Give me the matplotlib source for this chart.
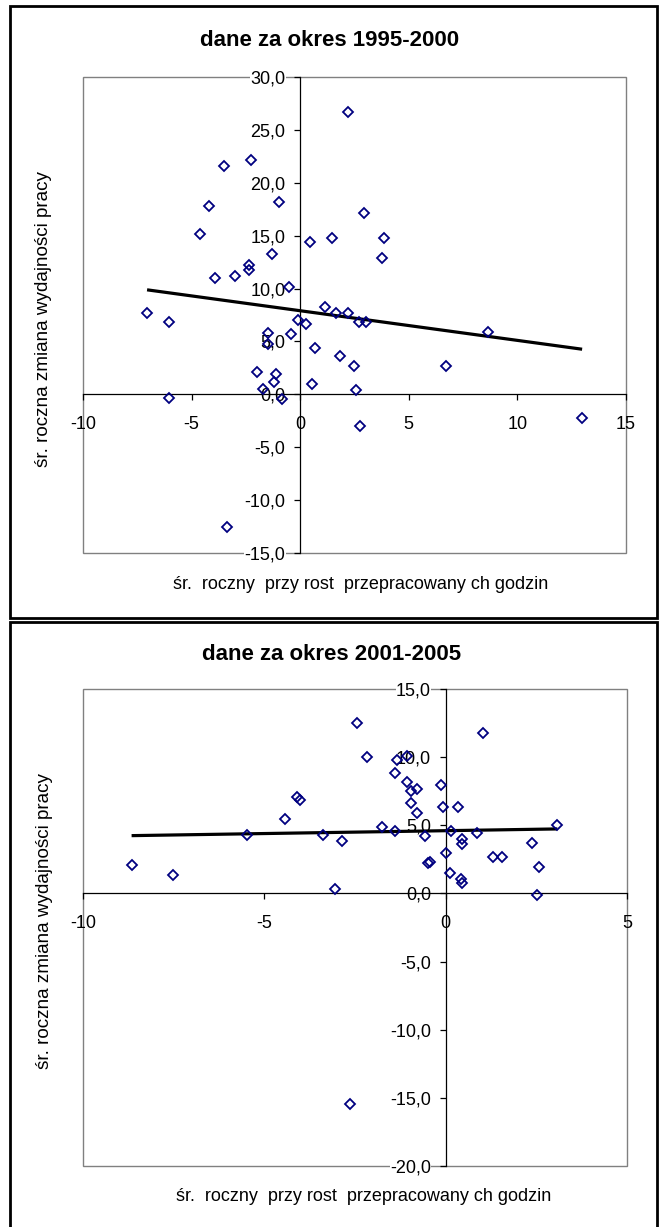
import numpy as np
import matplotlib
matplotlib.use("Agg")
import matplotlib.pyplot as plt
from matplotlib.patches import Rectangle
from matplotlib.ticker import FuncFormatter

plt.rcParams['font.family'] = ['Liberation Sans', 'DejaVu Sans']
plt.rcParams['axes.unicode_minus'] = False

# ---------------- data ----------------
title_1 = "dane za okres 1995-2000"
title_2 = "dane za okres 2001-2005"
xlabel_text = "śr.  roczny  przy rost  przepracowany ch godzin"
ylabel_text = "śr. roczna zmiana wydajności pracy"

x1 = [2.19, -2.25, -3.53, -0.97, -4.19, 2.93, -4.63, 1.45, 3.84, 0.43,
      3.76, -1.32, -2.34, -2.34, -3.91, -2.98, -0.50, -7.05, -6.03, 1.16,
      1.63, 2.19, 2.71, 3.02, -0.12, 0.27, -1.49, -0.41, -1.49, 0.70,
      8.66, 1.82, 2.48, 6.72, -1.98, -1.12, -1.22, 0.54, -1.71, 2.56,
      -6.03, -0.85, 12.98, 2.75, -3.35]
y1 = [26.7, 22.2, 21.6, 18.2, 17.8, 17.1, 15.2, 14.8, 14.8, 14.4,
      12.9, 13.3, 12.2, 11.8, 11.0, 11.2, 10.1, 7.7, 6.88, 8.25,
      7.68, 7.68, 6.82, 6.88, 7.07, 6.66, 5.77, 5.71, 4.76, 4.38,
      5.93, 3.62, 2.66, 2.66, 2.12, 1.90, 1.17, 0.95, 0.54, 0.41,
      -0.38, -0.41, -2.28, -3.04, -12.56]

x2 = [-2.44, 1.04, -2.16, -1.35, -1.07, -1.39, -1.07, -0.78, -0.95, -0.12,
      -0.95, -0.08, 0.33, -0.78, -4.09, -4.03, -4.42, -5.47, -3.37, -1.76,
      -1.39, 0.15, 0.87, 3.08, -0.57, 0.45, 0.45, 2.38, -2.87, 0.00,
      1.31, 1.54, -0.49, -0.43, -8.66, 2.58, -7.51, 0.12, 0.41, 0.46,
      -3.04, 2.53, -2.65]
y2 = [12.48, 11.74, 9.98, 9.78, 10.07, 8.82, 8.21, 7.65, 7.48, 7.92,
      6.62, 6.32, 6.32, 5.88, 7.11, 6.86, 5.44, 4.29, 4.29, 4.90,
      4.56, 4.56, 4.41, 5.00, 4.22, 3.97, 3.63, 3.68, 3.82, 2.94,
      2.65, 2.65, 2.21, 2.28, 2.06, 1.91, 1.32, 1.47, 1.03, 0.78,
      0.29, -0.12, -15.47]

xticks_1 = [-10, -5, 0, 5, 10, 15]
yticks_1 = [-15, -10, -5, 0, 5, 10, 15, 20, 25, 30]
xticks_2 = [-10, -5, 0, 5]
yticks_2 = [-20, -15, -10, -5, 0, 5, 10, 15]

# ---------------- figure ----------------
W, H = 659, 1227
fig = plt.figure(figsize=(W / 100, H / 100), dpi=100)
fig.patch.set_facecolor('white')


def fxy(px, py):
    return px / W, 1 - py / H


def panel_box(x0, y0, x1p, y1p):
    fx0, fy1 = fxy(x0, y1p)
    r = Rectangle((fx0, fy1), (x1p - x0) / W, (y1p - y0) / H,
                  transform=fig.transFigure, fill=False,
                  edgecolor='black', linewidth=2.0)
    fig.patches.append(r)


def make_axes(rect_px, xs, ys, xt, yt):
    l, t, r, b = rect_px
    ax = fig.add_axes([l / W, 1 - b / H, (r - l) / W, (b - t) / H])
    ax.set_xlim(xt[0], xt[-1])
    ax.set_ylim(yt[0], yt[-1])
    ax.set_xticks(xt)
    ax.set_yticks(yt)
    ax.yaxis.set_major_formatter(FuncFormatter(lambda v, p: f"{v:.1f}".replace('.', ',')))
    ax.xaxis.set_major_formatter(FuncFormatter(lambda v, p: f"{int(round(v))}"))
    for s in ('top', 'right'):
        ax.spines[s].set_visible(False)
    ax.spines['left'].set_position(('data', 0))
    ax.spines['bottom'].set_position(('data', 0))
    for s in ('left', 'bottom'):
        ax.spines[s].set_color('black')
        ax.spines[s].set_linewidth(0.9)
    ax.add_patch(Rectangle((0, 0), 1, 1, transform=ax.transAxes, fill=False,
                           edgecolor='#808080', linewidth=1.0, zorder=1,
                           clip_on=False))
    ax.tick_params(axis='both', direction='out', length=4.5, width=0.9,
                   color='black', labelsize=13, labelcolor='black')
    ax.tick_params(axis='y', pad=6)
    ax.tick_params(axis='x', pad=11)
    for lab in ax.get_yticklabels():
        lab.set_bbox(dict(facecolor='white', edgecolor='none', pad=0.3))
    ax.set_facecolor('white')
    # scatter
    ax.plot(xs, ys, linestyle='none', marker='D', markersize=5.4,
            markerfacecolor='none', markeredgecolor='#000080',
            markeredgewidth=1.3, zorder=4, clip_on=False)
    # linear trend line (least squares), spanning data range
    xa = np.asarray(xs)
    k, c = np.polyfit(xa, np.asarray(ys), 1)
    xx = np.array([xa.min(), xa.max()])
    ax.plot(xx, k * xx + c, color='black', linewidth=2.3, zorder=3,
            solid_capstyle='butt')
    return ax


# top panel
panel_box(10, 6, 657, 618)
ax1 = make_axes((83, 77, 626, 553), x1, y1, xticks_1, yticks_1)
fig.text(*fxy(330, 46), title_1, ha='center', va='baseline',
         fontsize=16, fontweight='bold')
fig.text(*fxy(361, 589), xlabel_text, ha='center', va='baseline', fontsize=13)
fig.text(*fxy(44, 319), ylabel_text, ha='center', va='center',
         rotation=90, fontsize=13.6)

# bottom panel
panel_box(10, 622, 657, 1230)
ax2 = make_axes((83, 689, 627, 1166), x2, y2, xticks_2, yticks_2)
fig.text(*fxy(332, 660), title_2, ha='center', va='baseline',
         fontsize=16, fontweight='bold')
fig.text(*fxy(364, 1201), xlabel_text, ha='center', va='baseline', fontsize=13)
fig.text(*fxy(45, 921), ylabel_text, ha='center', va='center',
         rotation=90, fontsize=13.6)

fig.savefig('out.png', dpi=100, facecolor='white')
